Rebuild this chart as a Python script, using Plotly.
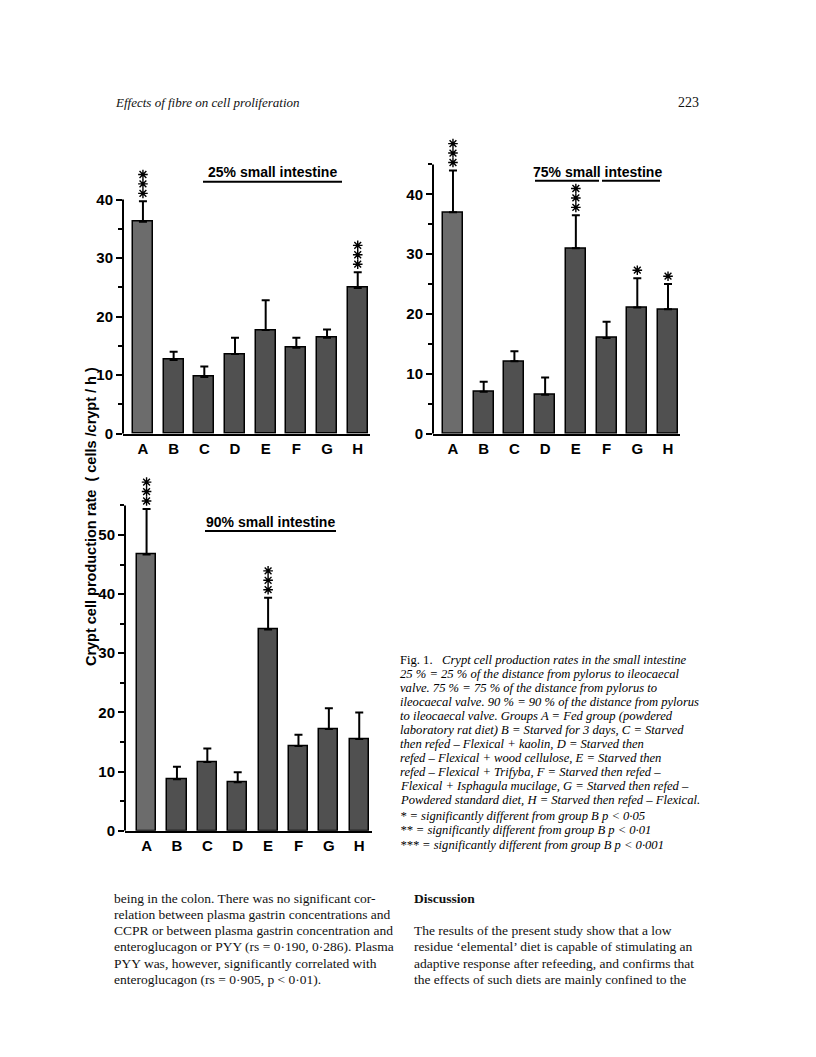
import plotly.graph_objects as go

# page geometry: the page body has an 8px margin, so the figure is drawn 8px smaller
PAGE_W, PAGE_H = 816, 1057
OFF = 8
W, H = PAGE_W - OFF, PAGE_H - OFF

# ---------------- data ----------------
groups = ["A", "B", "C", "D", "E", "F", "G", "H"]

si25_mean = [36.2, 12.6, 9.7, 13.6, 17.7, 14.7, 16.4, 24.9]
si25_upper = [39.7, 14.0, 11.5, 16.4, 22.8, 16.4, 17.8, 27.6]
si25_stars = [3, 0, 0, 0, 0, 0, 0, 3]

si75_mean = [37.0, 7.0, 12.1, 6.5, 31.0, 16.0, 21.1, 20.8]
si75_upper = [44.0, 8.7, 13.8, 9.4, 36.5, 18.7, 26.0, 25.0]
si75_stars = [3, 0, 0, 0, 3, 0, 1, 1]

si90_mean = [46.7, 8.7, 11.6, 8.2, 34.0, 14.3, 17.2, 15.5]
si90_upper = [54.4, 10.8, 13.9, 9.9, 39.4, 16.2, 20.7, 20.0]
si90_stars = [3, 0, 0, 0, 3, 0, 0, 0]

axis_tops = [40, 45, 55]
major_ticks = [0, 10, 20, 30, 40, 50]
minor_ticks = [5, 15, 25, 35, 45, 55]

titles = ["25% small intestine", "75% small intestine", "90% small intestine"]
y_label = "Crypt cell production rate  ( cells /crypt / h )"

header_left = "Effects of fibre on cell proliferation"
header_right = "223"

caption_lines = [
    "Fig. 1.   <i>Crypt cell production rates in the small intestine</i>",
    "<i>25 % = 25 % of the distance from pylorus to ileocaecal</i>",
    "<i>valve. 75 % = 75 % of the distance from pylorus to</i>",
    "<i>ileocaecal valve. 90 % = 90 % of the distance from pylorus</i>",
    "<i>to ileocaecal valve. Groups A = Fed group (powdered</i>",
    "<i>laboratory rat diet) B = Starved for 3 days, C = Starved</i>",
    "<i>then refed – Flexical + kaolin, D = Starved then</i>",
    "<i>refed – Flexical + wood cellulose, E = Starved then</i>",
    "<i>refed – Flexical + Trifyba, F = Starved then refed –</i>",
    "<i>Flexical + Isphagula mucilage, G = Starved then refed –</i>",
    "<i>Powdered standard diet, H = Starved then refed – Flexical.</i>",
]
footnote_lines = [
    "<i>* = significantly different from group B p < 0·05</i>",
    "<i>** = significantly different from group B p < 0·01</i>",
    "<i>*** = significantly different from group B p < 0·001</i>",
]
left_col = [
    "being in the colon. There was no significant cor-",
    "relation between plasma gastrin concentrations and",
    "CCPR or between plasma gastrin concentration and",
    "enteroglucagon or PYY (rs = 0·190, 0·286). Plasma",
    "PYY was, however, significantly correlated with",
    "enteroglucagon (rs = 0·905, p < 0·01).",
]
right_head = "Discussion"
right_col = [
    "The results of the present study show that a low",
    "residue ‘elemental’ diet is capable of stimulating an",
    "adaptive response after refeeding, and confirms that",
    "the effects of such diets are mainly confined to the",
]

# ---------------- helpers (page pixels -> paper) ----------------
def px(x):
    return (x - OFF) / W


def py(y):
    return 1 - (y - OFF) / H


SANS = "Liberation Sans"
SERIF = "Liberation Serif"

# layout per panel: x extent (px), zero line y (px), pixels per unit, x range, bar width
panels = [
    dict(mean=si25_mean, up=si25_upper, st=si25_stars, top=axis_tops[0],
         xd=(123, 370), y0=437, ppu=5.9, xr=(-0.65, 7.4), bw=0.65,
         tpos=(272, 173), ul=[(203, 342, 183)]),
    dict(mean=si75_mean, up=si75_upper, st=si75_stars, top=axis_tops[1],
         xd=(433, 680), y0=437, ppu=6.03, xr=(-0.65, 7.39), bw=0.65,
         tpos=(597, 173), ul=[(535, 599, 182), (602, 660, 182)]),
    dict(mean=si90_mean, up=si90_upper, st=si90_stars, top=axis_tops[2],
         xd=(125, 372), y0=837, ppu=5.96, xr=(-0.71, 7.42), bw=0.63,
         tpos=(270, 526), ul=[(205, 336, 535)]),
]

STAR_GAP0, STAR_STEP = 8, 9.5  # px above cap, px between stacked stars

fig = go.Figure()
annotations = []
shapes = []

for k, p in enumerate(panels):
    sfx = "" if k == 0 else str(k + 1)
    xs = list(range(len(groups)))
    ppu = p["ppu"]
    colors = ["#6c6c6c"] + ["#505050"] * (len(groups) - 1)
    fig.add_trace(go.Bar(
        x=xs, y=p["mean"], width=p["bw"],
        marker=dict(color=colors, line=dict(color="black", width=1.5)),
        error_y=dict(type="data", symmetric=False,
                     array=[u - m for u, m in zip(p["up"], p["mean"])],
                     arrayminus=[0] * len(groups),
                     color="black", thickness=2, width=4),
        xaxis="x" + sfx, yaxis="y" + sfx, showlegend=False, hoverinfo="skip",
    ))

    # significance stars: stacked asterisk markers above the error-bar caps
    sx, sy = [], []
    for i, n in enumerate(p["st"]):
        for j in range(n):
            sx.append(i)
            sy.append(p["up"][i] + (STAR_GAP0 + STAR_STEP * j) / ppu)
    fig.add_trace(go.Scatter(
        x=sx, y=sy, mode="markers",
        marker=dict(symbol="asterisk-open", size=8, color="black",
                    line=dict(color="black", width=1.4)),
        xaxis="x" + sfx, yaxis="y" + sfx, showlegend=False, hoverinfo="skip",
    ))

    # extended value range so that stars fit inside the plotting area
    ymax = max([p["top"]] + [v + 6 / ppu for v in sy])
    ytop_px = p["y0"] - ymax * ppu

    axis_x = dict(domain=[px(p["xd"][0]), px(p["xd"][1])], range=list(p["xr"]),
                  anchor="y" + sfx, showline=True, linecolor="black", linewidth=2,
                  ticks="", tickvals=xs, ticktext=groups, showgrid=False, zeroline=False,
                  tickfont=dict(family=SANS, size=15, color="black", weight="bold"),
                  fixedrange=True)
    axis_y = dict(domain=[py(p["y0"]), py(ytop_px)], range=[0, ymax],
                  anchor="x" + sfx, showline=False,
                  ticks="outside", ticklen=6, tickwidth=2, tickcolor="black",
                  tickmode="array", tickvals=[t for t in major_ticks if t <= p["top"]],
                  minor=dict(tickmode="array", tickvals=[t for t in minor_ticks if t <= p["top"]],
                             ticks="outside", ticklen=4, tickwidth=1.5, tickcolor="black"),
                  showgrid=False, zeroline=False,
                  tickfont=dict(family=SANS, size=15, color="black", weight="bold"),
                  fixedrange=True)
    fig.update_layout(**{"xaxis" + sfx: axis_x, "yaxis" + sfx: axis_y})

    # vertical axis line from 0 to the panel's top value
    shapes.append(dict(type="line", xref="x" + sfx + " domain", yref="y" + sfx,
                       x0=0, x1=0, y0=0, y1=p["top"],
                       line=dict(color="black", width=2)))

    # panel title + underline
    annotations.append(dict(
        x=px(p["tpos"][0]), y=py(p["tpos"][1]), xref="paper", yref="paper",
        text=titles[k], showarrow=False, xanchor="center", yanchor="middle",
        font=dict(family=SANS, size=14, color="black", weight="bold"),
    ))
    for (x0, x1, yy) in p["ul"]:
        shapes.append(dict(type="line", xref="paper", yref="paper",
                           x0=px(x0), x1=px(x1), y0=py(yy), y1=py(yy),
                           line=dict(color="black", width=2)))

# y-axis label
annotations.append(dict(
    x=px(91), y=py(521), xref="paper", yref="paper", text=y_label, textangle=-90,
    showarrow=False, xanchor="center", yanchor="middle",
    font=dict(family=SANS, size=14.5, color="black", weight="bold"),
))

# header
annotations.append(dict(x=px(113), y=py(103), xref="paper", yref="paper",
                        text="<i>" + header_left + "</i>", showarrow=False,
                        xanchor="left", yanchor="middle",
                        font=dict(family=SERIF, size=13, color="#111")))
annotations.append(dict(x=px(701), y=py(103), xref="paper", yref="paper",
                        text=header_right, showarrow=False,
                        xanchor="right", yanchor="middle",
                        font=dict(family=SERIF, size=14, color="#111")))

# caption
for i, line in enumerate(caption_lines):
    annotations.append(dict(x=px(398), y=py(665 + 14.1 * i), xref="paper", yref="paper",
                            text=line, showarrow=False, xanchor="left", yanchor="middle",
                            font=dict(family=SERIF, size=12.6, color="#000")))
for i, line in enumerate(footnote_lines):
    annotations.append(dict(x=px(398), y=py(822 + 14.5 * i), xref="paper", yref="paper",
                            text=line, showarrow=False, xanchor="left", yanchor="middle",
                            font=dict(family=SERIF, size=12.6, color="#000")))

# body text
for i, line in enumerate(left_col):
    annotations.append(dict(x=px(112), y=py(905 + 16.4 * i), xref="paper", yref="paper",
                            text=line, showarrow=False, xanchor="left", yanchor="middle",
                            font=dict(family=SERIF, size=13.5, color="#111")))
annotations.append(dict(x=px(412), y=py(905), xref="paper", yref="paper",
                        text="<b>" + right_head + "</b>", showarrow=False,
                        xanchor="left", yanchor="middle",
                        font=dict(family=SERIF, size=13.5, color="#111")))
for i, line in enumerate(right_col):
    annotations.append(dict(x=px(412), y=py(937.8 + 16.4 * i), xref="paper", yref="paper",
                            text=line, showarrow=False, xanchor="left", yanchor="middle",
                            font=dict(family=SERIF, size=13.5, color="#111")))

fig.update_layout(
    width=W, height=H, margin=dict(l=0, r=0, t=0, b=0),
    paper_bgcolor="white", plot_bgcolor="white",
    annotations=annotations, shapes=shapes, bargap=0,
)

fig.write_html("out.html", config={"displayModeBar": False})
